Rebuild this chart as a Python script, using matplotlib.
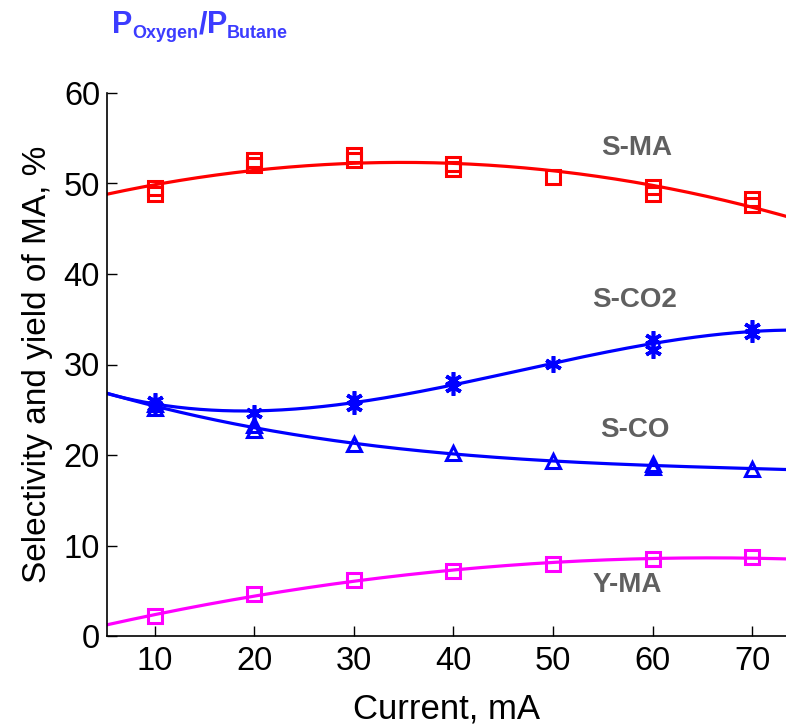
import numpy as np
import matplotlib
matplotlib.use("Agg")
import matplotlib.pyplot as plt

plt.rcParams['font.family'] = ['Liberation Sans', 'DejaVu Sans']

# Measurements (repeated runs at each current)
current_sma = [10, 10, 20, 20, 30, 30, 40, 40, 50, 60, 60, 70, 70]
s_ma = [48.8, 49.5, 52.0, 52.6, 52.6, 53.1, 51.6, 52.1, 50.7, 48.8, 49.6, 47.6, 48.3]

current_sco2 = [10, 10, 20, 30, 30, 40, 40, 50, 60, 60, 70, 70]
s_co2 = [25.4, 26.0, 24.6, 25.4, 26.2, 27.5, 28.3, 30.1, 31.6, 32.8, 33.4, 34.0]

current_sco = [10, 10, 20, 20, 30, 40, 50, 60, 60, 70]
s_co = [25.2, 25.6, 22.8, 23.3, 21.2, 20.2, 19.3, 18.7, 19.0, 18.5]

current_yma = [10, 20, 30, 40, 50, 60, 70]
y_ma = [2.2, 4.6, 6.2, 7.2, 8.0, 8.5, 8.7]

x_ticks = [10, 20, 30, 40, 50, 60, 70]
y_ticks = [0, 10, 20, 30, 40, 50, 60]

W, H = 786, 728
fig = plt.figure(figsize=(W / 100, H / 100), dpi=100)
ax = fig.add_axes([107 / W, 1 - 636 / H, 1 - 107 / W, (636 - 93) / H])
xmin, xmax = 5.2, 73.4
xs = np.linspace(xmin, xmax, 300)

# (x, y, colour, marker, polynomial degree of the fitted trend)
series = [
    (current_sma, s_ma, 'red', 's', 2),
    (current_sco2, s_co2, 'blue', '*', 3),
    (current_sco, s_co, 'blue', '^', 3),
    (current_yma, y_ma, 'magenta', 's', 2),
]
for cx, cy, col, mk, deg in series:
    coef = np.polyfit(cx, cy, deg)
    ax.plot(xs, np.polyval(coef, xs), color=col, lw=2.3, zorder=2)
    if mk == '*':
        ax.plot(cx, cy, ls='none', marker=(6, 2, 0), ms=12, mec=col, mew=2.6,
                color=col, zorder=3)
    else:
        ax.plot(cx, cy, ls='none', marker=mk, ms=9.5, mfc='none', mec=col,
                mew=2.2, zorder=3)

ax.set_xlim(xmin, xmax)
ax.set_ylim(0, 60)
ax.set_xticks(x_ticks)
ax.set_yticks(y_ticks)
ax.tick_params(direction='in', length=7, width=1, labelsize=23.5, pad=5,
               colors='black')
ax.tick_params(axis='x', pad=7.5)
for s in ['top', 'right']:
    ax.spines[s].set_visible(False)
for s in ['left', 'bottom']:
    ax.spines[s].set_linewidth(1.2)

ax.set_xlabel('Current, mA', fontsize=25, labelpad=11)
ax.set_ylabel('Selectivity and yield of MA, %', fontsize=24, labelpad=8)

gray = '#606060'
for txt, px, py in [('S-MA', 637, 148), ('S-CO2', 635, 300),
                    ('S-CO', 635, 430), ('Y-MA', 627, 585)]:
    fig.text(px / W, 1 - py / H, txt, fontsize=20, fontweight='bold',
             color=gray, ha='center', va='center')

# Title: P_Oxygen / P_Butane built from pieces so the subscripts sit low
title_col = '#3c3cff'
pieces = [('P', 22, 0), ('Oxygen', 13, -5), ('/', 22, 0),
          ('P', 22, 0), ('Butane', 13, -5)]
renderer = fig.canvas.get_renderer()
x_px = 112
base_px = 33
for txt, fs, dy in pieces:
    t = fig.text(x_px / W, 1 - (base_px - dy) / H, txt, fontsize=fs,
                 fontweight='bold', color=title_col, ha='left', va='baseline')
    bb = t.get_window_extent(renderer=renderer)
    x_px += bb.width

fig.savefig('out.png', dpi=100)
